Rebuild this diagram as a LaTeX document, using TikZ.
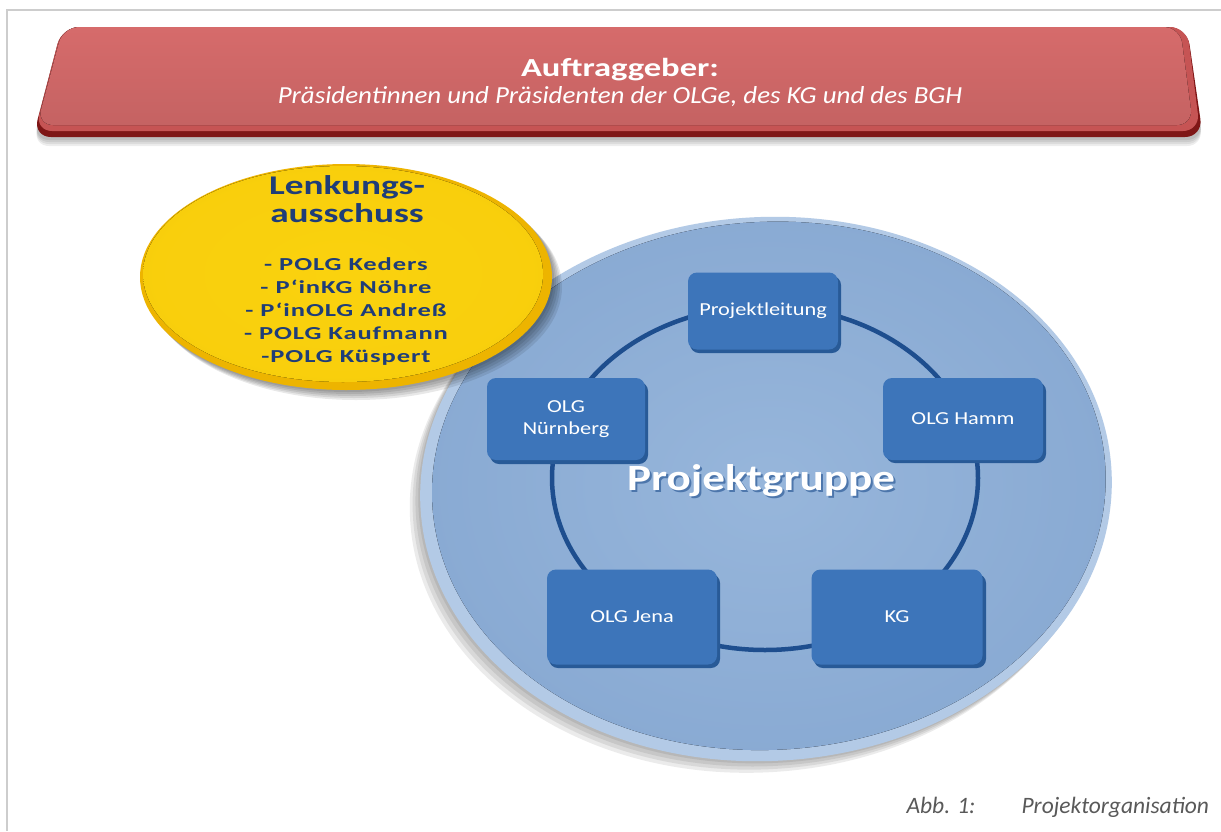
\documentclass[tikz,border=0pt]{standalone}
\usepackage{fontspec}
\setmainfont{Carlito}[FakeStretch=1.12]
\newfontfamily\fcap{Carlito}[FakeStretch=1.0]
\newfontfamily\fsub{Carlito}[FakeStretch=1.1]
\newfontfamily\fmid{Carlito}[FakeStretch=1.22]
\newfontfamily\fhead{Carlito}[FakeStretch=1.38]
\newfontfamily\ftitle{Carlito}[FakeStretch=1.33]
\newfontfamily\flist{Carlito}[FakeStretch=1.45,LetterSpace=5]
\definecolor{framegray}{HTML}{CDCDCD}
\definecolor{bannerlight}{HTML}{D66B6B}
\definecolor{bannermid}{HTML}{C65454}
\definecolor{bannerdark}{HTML}{7E1616}
\definecolor{yellowin}{HTML}{FAD20E}
\definecolor{yellowout}{HTML}{EDB400}
\definecolor{diskrim}{HTML}{B3CAE6}
\definecolor{diskin}{HTML}{97B6DB}
\definecolor{diskout}{HTML}{89AAD3}
\definecolor{boxblue}{HTML}{3D75BA}
\definecolor{boxdark}{HTML}{285A97}
\definecolor{ringblue}{HTML}{1E4E8E}
\definecolor{navy}{HTML}{1F3D78}
\definecolor{capgray}{HTML}{595959}
\tikzset{
  pgbox/.style={draw=none, fill=boxblue, rounded corners=9pt, text=white,
    align=center, font=\fmid\fontsize{18.3}{22}\selectfont, inner sep=0pt},
  pgshadow/.style={fill=boxdark, rounded corners=9pt},
  softshadow/.style={fill=black, opacity=0.07},
  lkhead/.style={text=navy, anchor=base, inner sep=0pt, font=\fhead\fontsize{27}{28}\selectfont\bfseries},
  lkitem/.style={text=navy, anchor=base, inner sep=1pt, font=\flist\fontsize{18.3}{22}\selectfont\bfseries},
  captext/.style={text=capgray, anchor=base west, font=\fcap\fontsize{23.5}{26}\selectfont\itshape},
}
\begin{document}
\begin{tikzpicture}[x=1pt,y=-1pt]
\useasboundingbox (0,0) rectangle (1221,831);
\fill[white] (0,0) rectangle (1221,831);
% frame
\draw[framegray, line width=2pt] (1221,10) -- (7,10) -- (7,831);

% banner shadow
\foreach \d in {3,5,7,9}{
  \fill[softshadow, rounded corners=16pt] (62,27+\d) -- (1187,27+\d) -- (1203,137+\d) -- (33,137+\d) -- cycle;
}
% banner
\fill[bannerdark, rounded corners=18pt] (62,27) -- (1187,27) -- (1203,137) -- (33,137) -- cycle;
\fill[bannermid, rounded corners=17pt] (62,27) -- (1187,27) -- (1200,131) -- (35,131) -- cycle;
\fill[top color=bannerlight, bottom color=bannerlight!92!black, rounded corners=16pt] (63,27) -- (1180,27) -- (1193,125) -- (37,125) -- cycle;
\node[text=white, anchor=base, font=\ftitle\fontsize{26}{28}\selectfont\bfseries] (title) at (620,76) {Auftraggeber:};
\node[text=white, anchor=base, font=\fsub\fontsize{24.5}{26}\selectfont\itshape] (sub) at (620,103) {Präsidentinnen und Präsidenten der OLGe, des KG und des BGH};

% blue disk
\coordinate (dc) at (766,489);
\foreach \d in {2,5,8,11}{
  \fill[softshadow, opacity=0.08, rotate around={3:(dc)}] ([shift={(-\d,\d)}]dc) ellipse [x radius=346pt, y radius=272pt];
}
\fill[diskrim, rotate around={3:(dc)}] (dc) ellipse [x radius=346pt, y radius=272pt];
\fill[inner color=diskin, outer color=diskout, rotate around={3:(dc)}] ([shift={(3,-3)}]dc) ellipse [x radius=337pt, y radius=264pt];

% ring
\coordinate (rc) at (765,478);
\draw[ringblue, line width=4.5pt] (rc) ellipse [x radius=213pt, y radius=172pt];

% project group text
\node[text=ringblue, opacity=0.6, font=\fmid\fontsize{37}{40}\selectfont\bfseries] (pgs) at (763,483) {Projektgruppe};
\node[text=white, font=\fmid\fontsize{37}{40}\selectfont\bfseries] (pg) at (761,481) {Projektgruppe};

% boxes with shadows
\fill[pgshadow] (690,276) rectangle (841,353);
\node[pgbox, minimum width=150pt, minimum height=77pt] (pl) at (763,311) {Projektleitung};
\fill[pgshadow] (490,382) rectangle (648,464);
\node[pgbox, minimum width=158pt, minimum height=82pt] (nb) at (566,419) {OLG\\Nürnberg};
\fill[pgshadow] (886,382) rectangle (1046,463);
\node[pgbox, minimum width=160pt, minimum height=82pt] (ha) at (963,419) {OLG Hamm};
\fill[pgshadow] (549,574) rectangle (720,668);
\node[pgbox, minimum width=170pt, minimum height=95pt] (je) at (632,617) {OLG Jena};
\fill[pgshadow] (814,574) rectangle (986,668);
\node[pgbox, minimum width=171pt, minimum height=95pt] (kg) at (897,617) {KG};

% yellow ellipse
\coordinate (yc) at (346,277);
\foreach \d in {2,4,6,8,10}{
  \fill[softshadow, opacity=0.09] ([shift={(\d,\d)}]yc) ellipse [x radius=206pt, y radius=113pt];
}
\fill[yellowout] (yc) ellipse [x radius=206pt, y radius=113pt];
\fill[inner color=yellowin, outer color=yellowin!88!yellowout] ([shift={(-3,-3)}]yc) ellipse [x radius=200pt, y radius=108pt];
\node[lkhead] (lk1) at (347,194) {Lenkungs-};
\node[lkhead] (lk2) at (347,222) {ausschuss};
\node[lkitem] (l1) at (346,270) {- POLG Keders};
\node[lkitem] (l2) at (346,293) {- P‘inKG Nöhre};
\node[lkitem] (l3) at (346,316) {- P‘inOLG Andreß};
\node[lkitem] (l4) at (346,339) {- POLG Kaufmann};
\node[lkitem] (l5) at (346,362) {-POLG Küspert};

% caption
\node[captext] (abb) at (903,813) {Abb. 1:};
\node[captext] (cap) at (1018,813) {Projektorganisation};
\end{tikzpicture}
\end{document}
